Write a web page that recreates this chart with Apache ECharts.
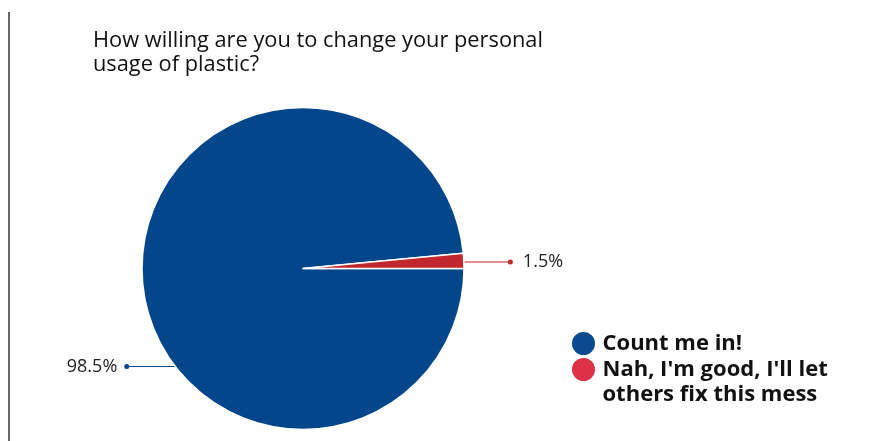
<!DOCTYPE html>
<html>
<head>
<meta charset="utf-8">
<script src="https://cdn.jsdelivr.net/npm/echarts@6/dist/echarts.min.js"></script>
<style>
html,body{margin:0;padding:0;background:#fff;}
#c{width:878px;height:441px;}
</style>
</head>
<body>
<div id="c"></div>
<script>
const titleText = "How willing are you to change your personal\nusage of plastic?";
const categories = ["Count me in!", "Nah, I'm good, I'll let\nothers fix this mess"];
const values = [98.5, 1.5];
const sliceColors = ["#03468c", "#c1272d"];
const legendColors = ["#0a4a8f", "#dd3148"];

const chart = echarts.init(document.getElementById('c'), null, {renderer: 'canvas'});
const CX = 303, CY = 268.5, R = 161;

const option = {
  animation: false,
  backgroundColor: '#ffffff',
  title: {
    text: titleText,
    left: 88, top: 24,
    textStyle: {fontFamily: 'Open Sans', fontWeight: 'normal', fontSize: 21.8, color: '#111', lineHeight: 24}
  },
  graphic: [{
    type: 'line', shape: {x1: 9, y1: 12, x2: 9, y2: 441},
    style: {stroke: '#333', lineWidth: 1.5}
  }],
  legend: {
    orient: 'vertical',
    left: 570, top: 330,
    padding: 0,
    icon: 'circle', itemWidth: 28, itemHeight: 25, itemGap: -25,
    textStyle: {fontFamily: 'Open Sans', fontWeight: 'bold', fontSize: 22, color: '#111', lineHeight: 25},
    formatter: function (name) {
      return name === categories[1] ? '\u00a0\n' + name : name;
    },
    data: categories.map((c, i) => ({name: c, itemStyle: {color: legendColors[i]}}))
  },
  series: [{
    type: 'pie',
    center: [CX, CY],
    radius: [0, R],
    startAngle: 0,
    clockwise: true,
    itemStyle: {borderColor: '#fff', borderWidth: 1.5},
    data: categories.map((c, i) => ({name: c, value: values[i], itemStyle: {color: sliceColors[i]}})),
    label: {
      show: true,
      fontFamily: 'Open Sans', fontSize: 18, color: '#222',
      formatter: function (p) {
        return p.dataIndex === 0 ? p.value + '%{sp|}{dot|}' : '{dot|}{sp2|}' + p.value + '%';
      },
      rich: {
        dot: {width: 5, height: 5, borderRadius: 3, backgroundColor: 'inherit'},
        sp: {width: 7, height: 1},
        sp2: {width: 10, height: 1}
      }
    },
    labelLine: {show: true, length: 0, length2: 0, lineStyle: {width: 1.2}},
    labelLayout: function (params) {
      const i = params.dataIndex;
      if (i === 0) {
        const py = 366.5;
        const px = CX - Math.sqrt(R * R - (py - CY) * (py - CY));
        const ex = px - 49;
        return {
          x: ex + 3, y: py, align: 'right', verticalAlign: 'middle',
          labelLinePoints: [[px, py], [ex, py], [ex, py]]
        };
      } else {
        const py = 262;
        const px = CX + Math.sqrt(R * R - (py - CY) * (py - CY));
        const ex = px + 47;
        return {
          x: ex - 3, y: py, align: 'left', verticalAlign: 'middle',
          labelLinePoints: [[px, py], [ex, py], [ex, py]]
        };
      }
    }
  }]
};
chart.setOption(option);
</script>
</body>
</html>
